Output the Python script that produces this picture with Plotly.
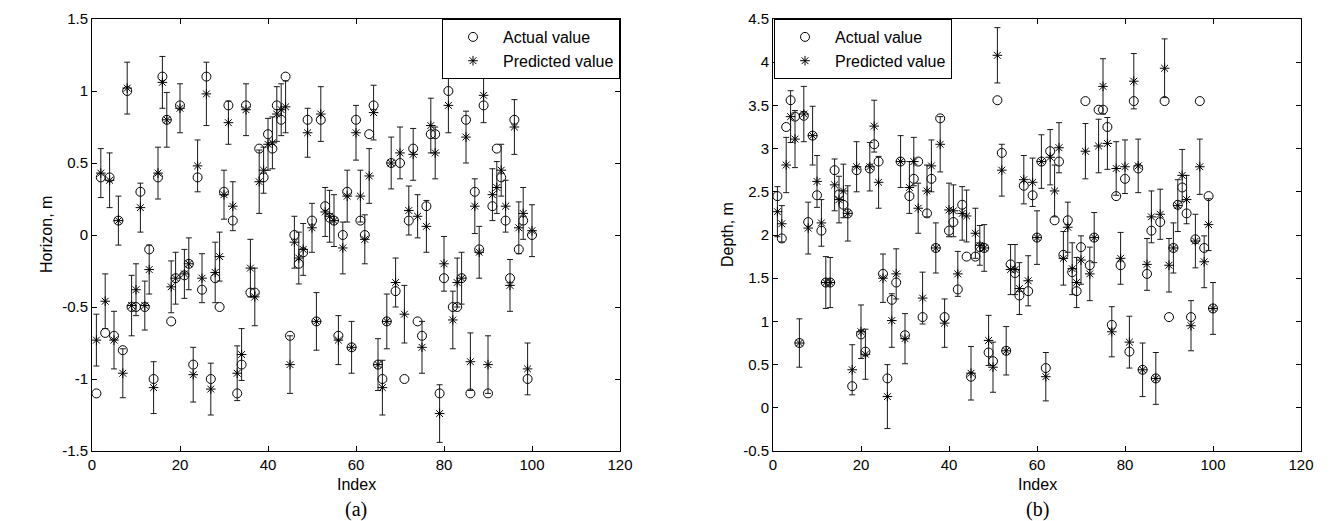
import plotly.graph_objects as go

index = list(range(1, 101))

horizon_actual = [-1.1, 0.4, -0.68, 0.4, -0.7, 0.1, -0.8, 1.0, -0.5, -0.5,
                  0.3, -0.5, -0.1, -1.0, 0.4, 1.1, 0.8, -0.6, -0.3, 0.9,
                  -0.28, -0.2, -0.9, 0.4, -0.38, 1.1, -1.0, -0.3, -0.5, 0.3,
                  0.9, 0.1, -1.1, -0.9, 0.9, -0.4, -0.4, 0.6, 0.4, 0.7,
                  0.6, 0.9, 0.8, 1.1, -0.7, 0.0, -0.2, -0.12, 0.8, 0.1,
                  -0.6, 0.8, 0.2, 0.12, 0.1, -0.7, 0.0, 0.3, -0.78, 0.8,
                  0.1, 0.0, 0.7, 0.9, -0.9, -1.0, -0.6, 0.5, -0.39, 0.5,
                  -1.0, 0.1, 0.6, -0.6, -0.7, 0.2, 0.7, 0.7, -1.1, -0.3,
                  1.0, -0.5, -0.5, -0.3, 0.8, -1.1, 0.3, -0.1, 0.9, -1.1,
                  0.2, 0.6, 0.4, 0.1, -0.3, 0.8, -0.1, 0.1, -1.0, 0.0]

horizon_pred = [-0.73, 0.43, -0.46, 0.38, -0.73, 0.1, -0.96, 1.02, -0.49, -0.38,
                0.19, -0.49, -0.24, -1.06, 0.43, 1.06, 0.8, -0.36, -0.3, 0.88,
                -0.27, -0.2, -0.97, 0.48, -0.3, 0.98, -1.07, -0.26, -0.15, 0.28,
                0.78, 0.2, -0.96, -0.83, 0.87, -0.23, -0.43, 0.37, 0.45, 0.63,
                0.64, 0.84, 0.87, 0.89, -0.9, -0.05, -0.16, -0.1, 0.71, 0.05,
                -0.6, 0.84, 0.16, 0.13, 0.1, -0.73, -0.09, 0.27, -0.78, 0.71,
                0.27, -0.03, 0.41, 0.85, -0.9, -1.06, -0.6, 0.5, -0.33, 0.57,
                -0.55, 0.17, 0.56, 0.13, -0.78, 0.06, 0.76, 0.57, -1.24, -0.2,
                0.9, -0.59, -0.33, -0.3, 0.68, -0.88, 0.2, -0.12, 0.97, -0.9,
                0.28, 0.33, 0.45, 0.2, -0.35, 0.75, 0.05, 0.15, -0.93, 0.03]

horizon_err = [0.18, 0.17, 0.19, 0.19, 0.2, 0.17, 0.17, 0.18, 0.21, 0.18,
               0.17, 0.17, 0.17, 0.18, 0.18, 0.18, 0.19, 0.18, 0.18, 0.17,
               0.17, 0.18, 0.19, 0.18, 0.17, 0.22, 0.18, 0.21, 0.17, 0.17,
               0.15, 0.17, 0.19, 0.18, 0.18, 0.2, 0.2, 0.22, 0.16, 0.18,
               0.18, 0.19, 0.18, 0.18, 0.2, 0.18, 0.18, 0.18, 0.17, 0.17,
               0.2, 0.19, 0.17, 0.18, 0.18, 0.17, 0.18, 0.18, 0.18, 0.19,
               0.18, 0.17, 0.19, 0.19, 0.18, 0.19, 0.19, 0.18, 0.17, 0.18,
               0.2, 0.17, 0.18, 0.15, 0.18, 0.18, 0.19, 0.18, 0.2, 0.19,
               0.19, 0.2, 0.17, 0.18, 0.18, 0.2, 0.19, 0.18, 0.19, 0.2,
               0.18, 0.18, 0.18, 0.18, 0.18, 0.19, 0.18, 0.18, 0.18, 0.18]

depth_actual = [2.45, 1.96, 3.25, 3.56, 3.37, 0.75, 3.38, 2.15, 3.15, 2.46,
                2.05, 1.45, 1.45, 2.75, 2.47, 2.35, 2.25, 0.25, 2.75, 0.85,
                0.65, 2.77, 3.05, 2.85, 1.55, 0.34, 1.25, 1.45, 2.85, 0.84,
                2.45, 2.65, 2.85, 1.05, 2.25, 2.65, 1.85, 3.35, 1.05, 2.05,
                2.15, 1.37, 2.35, 1.75, 0.36, 1.75, 1.86, 1.85, 0.64, 0.54,
                3.56, 2.95, 0.66, 1.66, 1.56, 1.3, 2.57, 1.35, 2.46, 1.97,
                2.85, 0.46, 2.97, 2.17, 2.85, 1.77, 2.17, 1.57, 1.35, 1.86,
                3.55, 1.65, 1.97, 3.45, 3.45, 3.25, 0.96, 2.45, 1.65, 2.65,
                0.65, 3.55, 2.77, 0.44, 1.55, 2.05, 0.34, 2.15, 3.55, 1.05,
                1.85, 2.35, 2.55, 2.25, 1.05, 1.95, 3.55, 1.85, 2.45, 1.15]

depth_pred = [2.27, 2.13, 2.81, 3.37, 3.11, 0.75, 3.4, 2.08, 3.15, 2.62,
              2.14, 1.45, 1.45, 2.58, 2.41, 2.51, 2.25, 0.44, 2.79, 0.88,
              0.62, 2.79, 3.26, 2.61, 1.5, 0.13, 1.01, 1.55, 2.85, 0.8,
              2.55, 2.85, 2.31, 1.27, 2.51, 2.8, 1.85, 3.05, 0.98, 2.29,
              2.28, 1.55, 2.25, 2.22, 0.4, 2.02, 1.88, 1.85, 0.78, 0.47,
              4.08, 2.75, 0.66, 1.6, 1.6, 1.38, 2.64, 1.47, 2.61, 1.97,
              2.85, 0.36, 2.9, 2.51, 3.01, 1.73, 2.09, 1.61, 1.45, 1.71,
              2.97, 1.55, 1.97, 3.03, 3.72, 3.06, 0.88, 2.77, 1.73, 2.79,
              0.76, 3.78, 2.8, 0.44, 1.66, 2.21, 0.34, 2.24, 3.93, 1.65,
              1.85, 2.34, 2.69, 2.41, 0.95, 1.93, 2.79, 1.69, 2.12, 1.15]

depth_err = [0.29, 0.21, 0.32, 0.3, 0.33, 0.28, 0.32, 0.3, 0.34, 0.3,
             0.27, 0.3, 0.29, 0.3, 0.27, 0.31, 0.32, 0.29, 0.29, 0.31,
             0.29, 0.28, 0.3, 0.3, 0.28, 0.37, 0.31, 0.29, 0.3, 0.29,
             0.3, 0.28, 0.29, 0.3, 0.3, 0.3, 0.29, 0.32, 0.28, 0.31,
             0.3, 0.26, 0.31, 0.3, 0.31, 0.29, 0.23, 0.27, 0.29, 0.29,
             0.32, 0.3, 0.28, 0.29, 0.29, 0.3, 0.28, 0.29, 0.28, 0.31,
             0.31, 0.28, 0.32, 0.3, 0.29, 0.31, 0.29, 0.3, 0.29, 0.28,
             0.32, 0.31, 0.29, 0.31, 0.32, 0.3, 0.29, 0.31, 0.3, 0.31,
             0.3, 0.32, 0.31, 0.31, 0.3, 0.3, 0.3, 0.29, 0.34, 0.31,
             0.29, 0.3, 0.3, 0.28, 0.29, 0.31, 0.32, 0.3, 0.3, 0.3]

W, H = 1330, 521
FONT = "Liberation Sans, Arial, Helvetica, sans-serif"
SERIF = "Liberation Serif, Times New Roman, serif"

# plot boxes in pixels
L1, R1 = 84, 612
L2, R2 = 765, 1293
TOP, BOT = 11, 443

fig = go.Figure()

def add_panel(xa, ya, actual, pred, err, legend):
    fig.add_trace(go.Scatter(
        x=index, y=actual, mode="markers", name="Actual value",
        xaxis=xa, yaxis=ya, legend=legend,
        marker=dict(symbol="circle-open", size=9, color="black",
                    line=dict(width=1, color="black"))))
    fig.add_trace(go.Scatter(
        x=index, y=pred, mode="markers", name="Predicted value",
        xaxis=xa, yaxis=ya, legend=legend,
        error_y=dict(type="data", array=err, visible=True, color="#1a1a1a",
                     thickness=1, width=3),
        marker=dict(symbol="asterisk-open", size=8, color="black",
                    line=dict(width=1, color="black"))))

add_panel("x", "y", horizon_actual, horizon_pred, horizon_err, "legend")
add_panel("x2", "y2", depth_actual, depth_pred, depth_err, "legend2")

ydom = [1 - BOT / H, 1 - TOP / H]
axis_common = dict(showline=True, linecolor="black", linewidth=1, mirror="allticks",
                   ticks="inside", ticklen=5, tickcolor="black", showgrid=False,
                   zeroline=False, automargin=False,
                   tickfont=dict(family=FONT, size=15, color="black"))

xticks = [0, 20, 40, 60, 80, 100, 120]
xlabels = ["0", "20", "40", "60", "80", "100", "120"]
h_ticks = [-1.5, -1, -0.5, 0, 0.5, 1, 1.5]
h_labels = ["-1.5", "-1", "-0.5", "0", "0.5", "1", "1.5"]
d_ticks = [-0.5, 0, 0.5, 1, 1.5, 2, 2.5, 3, 3.5, 4, 4.5]
d_labels = ["-0.5", "0", "0.5", "1", "1.5", "2", "2.5", "3", "3.5", "4", "4.5"]

legend_common = dict(yanchor="top", y=1 - TOP / H, bgcolor="white",
                     bordercolor="black", borderwidth=1,
                     font=dict(family=FONT, size=16, color="black"),
                     tracegroupgap=0, itemwidth=50)

fig.update_layout(
    width=W, height=H, margin=dict(l=0, r=0, t=0, b=0, autoexpand=False),
    paper_bgcolor="white", plot_bgcolor="white", showlegend=True,
    xaxis=dict(domain=[L1 / W, R1 / W], range=[0, 120], tickvals=xticks,
               ticktext=xlabels, anchor="y", **axis_common),
    yaxis=dict(domain=ydom, range=[-1.5, 1.5], tickvals=h_ticks,
               ticktext=h_labels, anchor="x", **axis_common),
    xaxis2=dict(domain=[L2 / W, R2 / W], range=[0, 120], tickvals=xticks,
                ticktext=xlabels, anchor="y2", **axis_common),
    yaxis2=dict(domain=ydom, range=[-0.5, 4.5], tickvals=d_ticks,
                ticktext=d_labels, anchor="x2", **axis_common),
    legend=dict(x=R1 / W, xanchor="right", **legend_common),
    legend2=dict(x=(L2 + 1) / W, xanchor="left", **legend_common),
)

annotations = [
    dict(text="Index", x=(L1 + R1) / 2 / W, y=1 - 476 / H, font=dict(family=FONT, size=16)),
    dict(text="Index", x=(L2 + R2) / 2 / W, y=1 - 476 / H, font=dict(family=FONT, size=16)),
    dict(text="Horizon, m", x=38 / W, y=1 - (TOP + BOT) / 2 / H, textangle=-90,
         font=dict(family=FONT, size=16)),
    dict(text="Depth, m", x=719 / W, y=1 - (TOP + BOT) / 2 / H, textangle=-90,
         font=dict(family=FONT, size=16)),
    dict(text="(a)", x=(L1 + R1) / 2 / W, y=1 - 501 / H, font=dict(family=SERIF, size=20)),
    dict(text="(b)", x=(L2 + R2) / 2 / W, y=1 - 501 / H, font=dict(family=SERIF, size=20)),
]
for a in annotations:
    a.update(xref="paper", yref="paper", showarrow=False, xanchor="center",
             yanchor="middle")
    a["font"]["color"] = "black"
fig.update_layout(annotations=annotations)

fig.write_html("out.html")
